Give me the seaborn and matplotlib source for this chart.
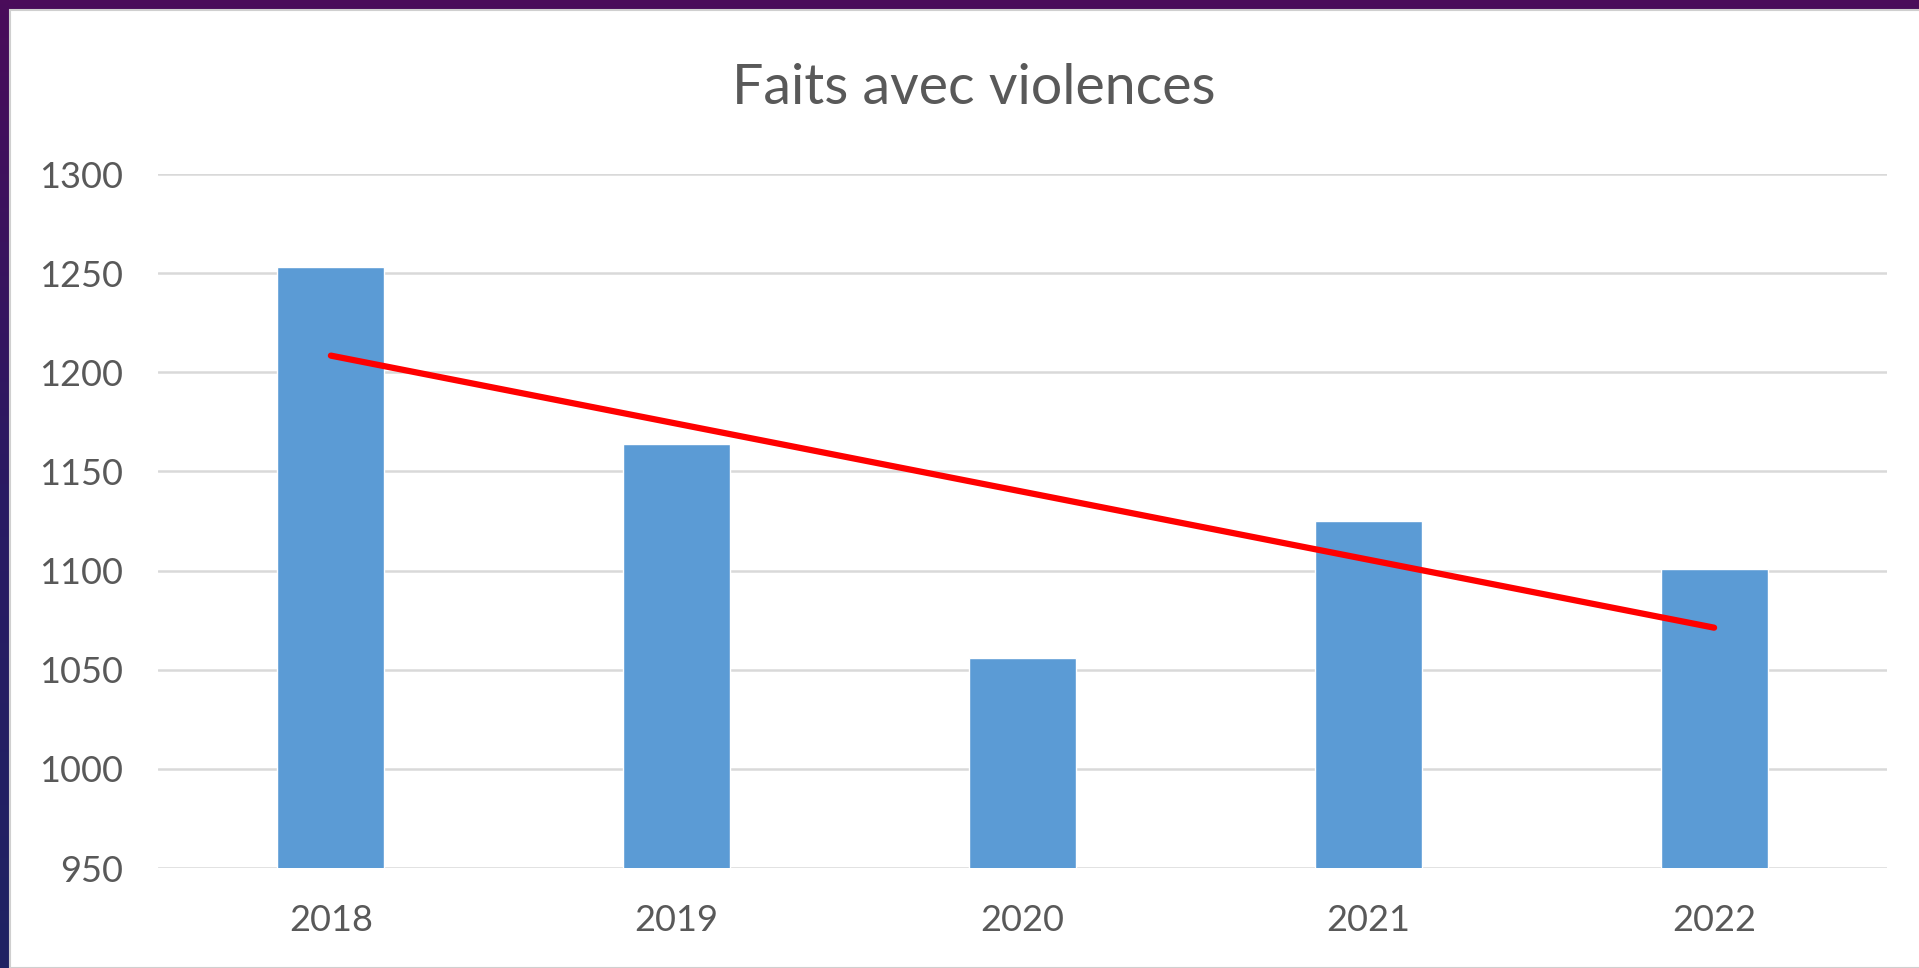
import numpy as np
import pandas as pd
import seaborn as sns
import matplotlib.pyplot as plt
from matplotlib.patches import Rectangle
from matplotlib.colors import LinearSegmentedColormap

years = ["2018", "2019", "2020", "2021", "2022"]
faits = [1253, 1164, 1056, 1125, 1101]
y_ticks = [950, 1000, 1050, 1100, 1150, 1200, 1250, 1300]

BAR_COLOUR = "#5b9bd5"
TEXT_COLOUR = "#595959"
GRID_COLOUR = "#d9d9d9"

sns.set_style("white")
plt.rcParams["font.family"] = ["Lato", "DejaVu Sans"]

df = pd.DataFrame({"annee": years, "faits": faits})

fig = plt.figure(figsize=(19.19, 9.68), dpi=100)

# purple slide background showing round the white chart
bg = fig.add_axes([0, 0, 1, 1], zorder=-2)
grad = np.linspace(0, 1, 256).reshape(-1, 1)
cmap = LinearSegmentedColormap.from_list("slide", ["#4a0c5a", "#2a1a62", "#1f2363"])
bg.imshow(grad, aspect="auto", cmap=cmap, extent=[0, 1, 0, 1])
bg.set_axis_off()
fig.patches.append(Rectangle((10 / 1919, 0), 1, 1 - 10 / 968, transform=fig.transFigure,
                             facecolor="white", edgecolor="#cfcfcf", linewidth=1.5, zorder=-1))

ax = fig.add_axes([158 / 1919, 1 - 868 / 968, (1887 - 158) / 1919, (868 - 174) / 968])
ax.patch.set_alpha(0)

sns.barplot(data=df, x="annee", y="faits", color=BAR_COLOUR, width=0.31,
            saturation=1, ax=ax, zorder=3)

# linear trend line over the bars
x_pos = np.arange(len(years))
sns.regplot(x=x_pos, y=np.array(faits, dtype=float), scatter=False, ci=None, ax=ax,
            line_kws={"color": "#ff0000", "linewidth": 4.5, "solid_capstyle": "round", "zorder": 4})

ax.set_ylim(950, 1300)
ax.set_xlim(-0.5, len(years) - 0.5)
ax.set_yticks(y_ticks)
ax.set_xticks(x_pos)
ax.set_xticklabels(years)
ax.yaxis.grid(True, color=GRID_COLOUR, linewidth=1.8, zorder=0)
ax.set_axisbelow(True)
for s in ["top", "right", "left", "bottom"]:
    ax.spines[s].set_visible(False)
ax.tick_params(axis="both", length=0, labelsize=26, labelcolor=TEXT_COLOUR)
ax.tick_params(axis="y", pad=25)
ax.tick_params(axis="x", pad=26)
ax.set_xlabel("")
ax.set_ylabel("")

fig.text(974 / 1919, 1 - 88 / 968, "Faits avec violences", ha="center", va="center",
         fontsize=40, color=TEXT_COLOUR)

fig.savefig("out.png", dpi=100)
